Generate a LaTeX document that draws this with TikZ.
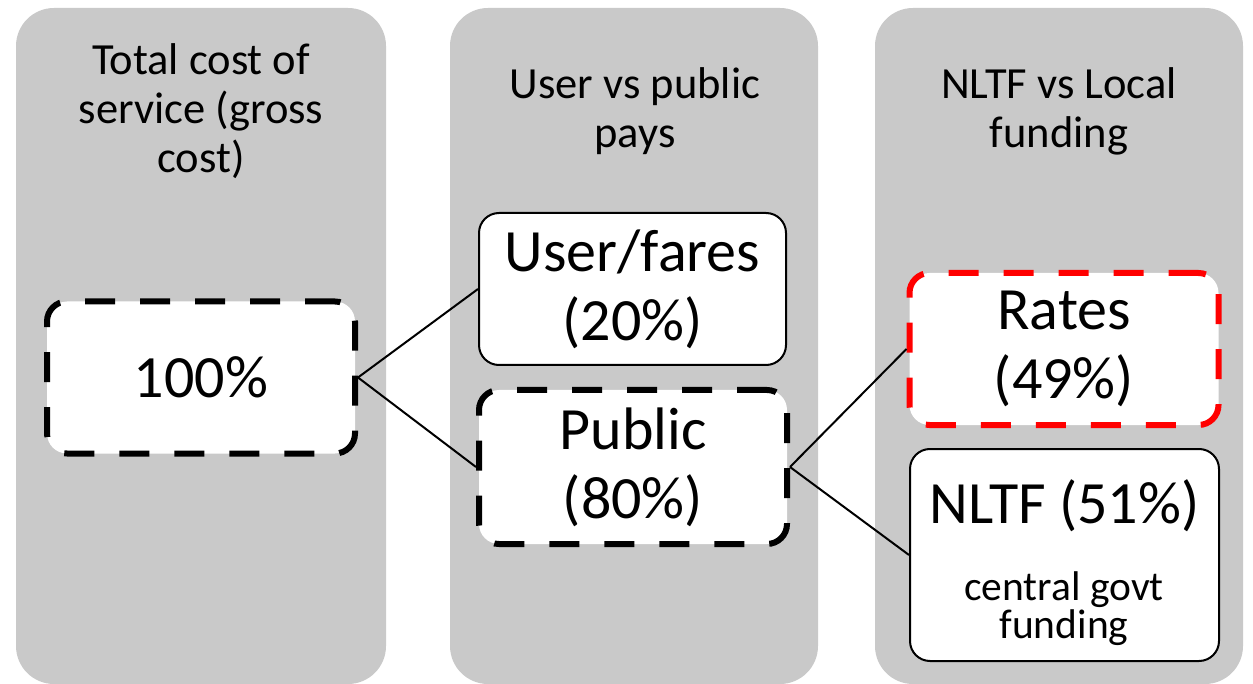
\documentclass[tikz,border=0pt]{standalone}
\usepackage{fontspec}
\setmainfont{Carlito}
\usetikzlibrary{positioning}
\definecolor{colgray}{RGB}{201,201,201}
\definecolor{ratesred}{RGB}{255,0,0}
\tikzset{
  column/.style={fill=colgray, rounded corners=38pt},
  heading/.style={align=center, font=\fontsize{44.5}{49}\selectfont},
  box/.style={draw, fill=white, rounded corners=20pt, align=center, inner sep=0pt,
    font=\fontsize{60}{69}\selectfont},
  solidbox/.style={box, line width=2pt},
  dashbox/.style={box, line width=6pt, dash pattern=on 30pt off 25pt},
  link/.style={line width=2pt}
}

\begin{document}
\begin{tikzpicture}[x=1pt, y=-1pt]
    \useasboundingbox (0,0) rectangle (1253,684);
    \fill[column] (16,8) rectangle (386,684);
    \fill[column] (450,8) rectangle (818,684);
    \fill[column] (875,8) rectangle (1243,684);

    \node[heading] (costhead) at (201,111) {Total cost of\\service (gross\\cost)};
    \node[heading] (payhead) at (635,111) {User vs public\\pays};
    \node[heading] (fundhead) at (1059,111) {NLTF vs Local\\funding};

    \node[dashbox, minimum width=308pt, minimum height=152pt] (total) at (201,377.5) {100\%};
    \node[solidbox, minimum width=307pt, minimum height=152pt] (user) at (632.5,289) {User/fares\\(20\%)};
    \node[dashbox, minimum width=308pt, minimum height=154pt] (public) at (633,467) {Public\\(80\%)};
    \node[dashbox, draw=ratesred, minimum width=309pt, minimum height=152pt] (rates) at (1064,349) {Rates\\(49\%)};
    \node[solidbox, minimum width=309pt, minimum height=212pt] (nltf) at (1064.5,555) {};
    \node[font=\fontsize{60}{69}\selectfont] (nltftitle) at (1064.5,506) {NLTF (51\%)};
    \node[align=center, font=\fontsize{41.5}{38}\selectfont] (nltfnote) at (1064,609) {central govt\\funding};

    \draw[link] (total.east) -- (user.west);
    \draw[link] (total.east) -- (public.west);
    \draw[link] (public.east) -- (rates.west);
    \draw[link] (public.east) -- (nltf.west);
\end{tikzpicture}
\end{document}
